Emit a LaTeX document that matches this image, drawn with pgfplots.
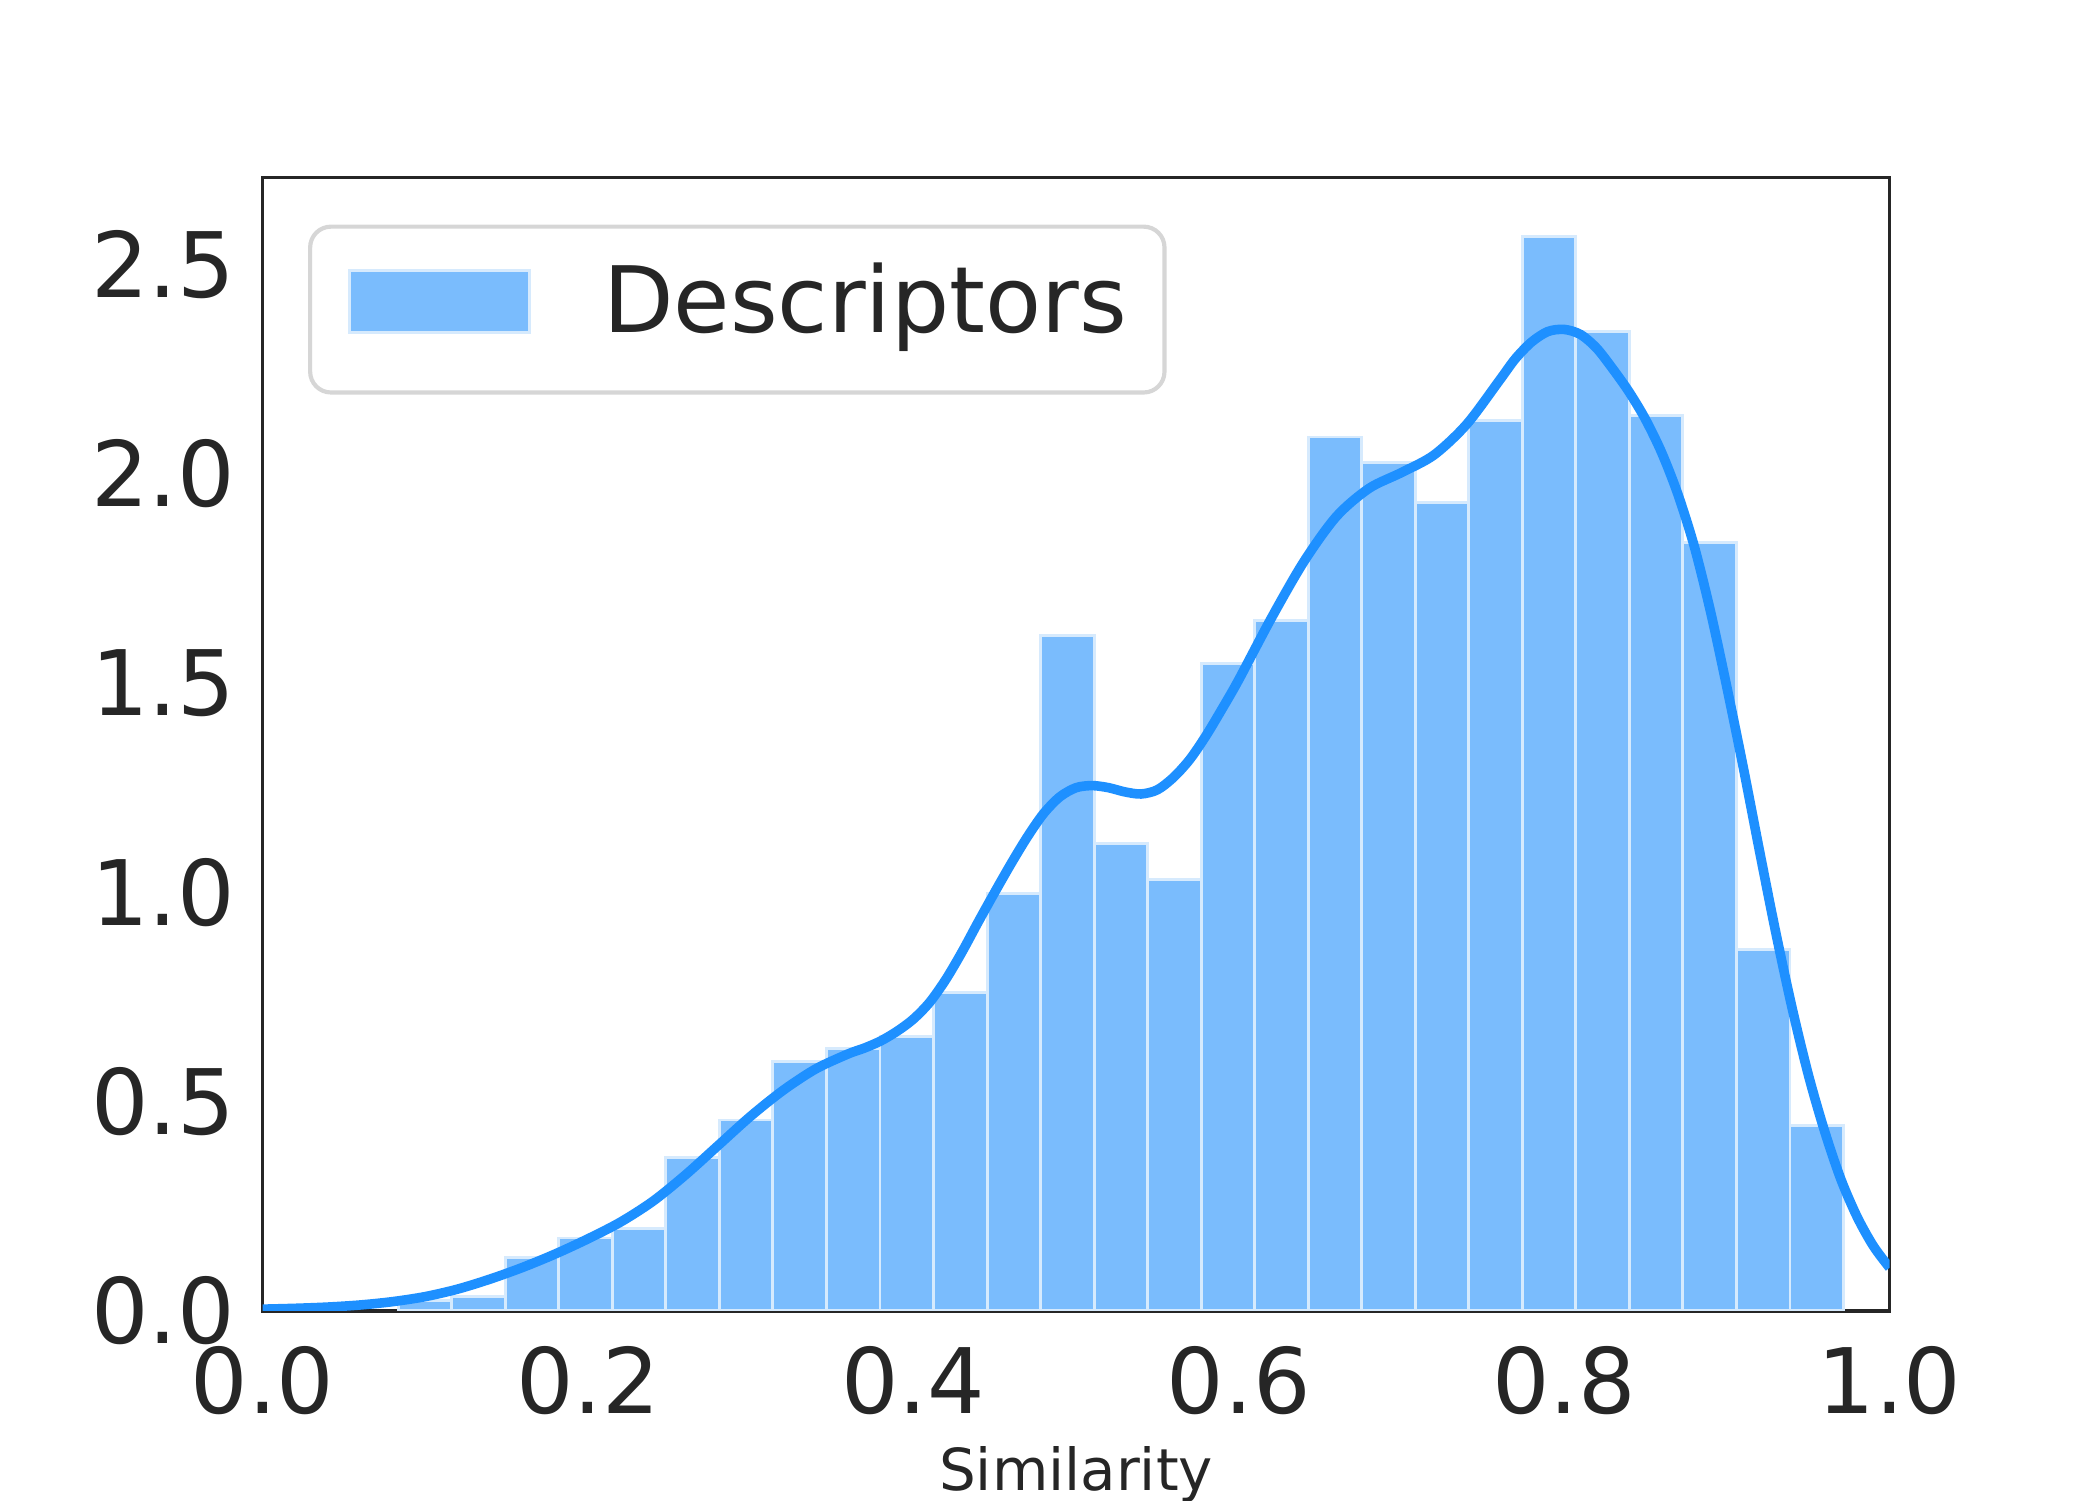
\documentclass[border=0pt]{standalone}
\usepackage{pgfplots}
\pgfplotsset{compat=1.18}
\usepackage{fontspec}
\setmainfont{DejaVu Sans}
\definecolor{txt}{RGB}{38,38,38}
\definecolor{kde}{RGB}{30,144,255}
\definecolor{barfill}{RGB}{122,188,253}
\definecolor{baredge}{RGB}{214,234,253}
\definecolor{legedge}{RGB}{214,214,214}

\begin{document}
\begin{tikzpicture}
\useasboundingbox (0,0) rectangle (504pt,360pt);
\begin{axis}[
    at={(63pt,45.4pt)}, anchor=south west,
    scale only axis,
    width=390.5pt, height=272pt,
    xmin=0, xmax=1,
    ymin=0, ymax=2.708,
    xtick={0,0.2,0.4,0.6,0.8,1.0},
    ytick={0,0.5,1.0,1.5,2.0,2.5},
    major tick length=0pt,
    /pgf/number format/.cd, fixed, fixed zerofill, precision=1, assume math mode=true,
    /pgfplots/.cd,
    tick label style={font=\fontsize{21.7}{25}\selectfont, text=txt, inner sep=0pt},
    xticklabel style={yshift=-8.4pt},
    yticklabel style={xshift=-6.4pt},
    axis line style={draw=txt, line width=0.8pt},
    xlabel={Similarity},
    xlabel style={font=\fontsize{13.9}{16}\selectfont, text=txt,
                  at={(axis description cs:0.5,0)}, anchor=base, yshift=-43.2pt},
    legend style={at={(axis description cs:0.028,0.9585)}, anchor=north west,
                  draw=legedge, line width=1pt, rounded corners=5pt, fill=white,
                  inner xsep=9pt, inner ysep=8.8pt,
                  font=\fontsize{22}{26}\selectfont, text=txt,
                  nodes={inner sep=0pt}},
    legend cell align=left,
]

%% histogram (density), 27 bins, left edges
\addplot[ybar interval, fill=barfill, draw=baredge, line width=0.7pt,
    legend image code/.code={
        \draw[sharp corners, fill=barfill, draw=baredge, line width=0.7pt] (0pt,-7.45pt) rectangle (43.3pt,7.45pt);
        \path (60.6pt,-12.75pt);
    }] coordinates {
  (0.0834,0.025)
  (0.1163,0.034)
  (0.1492,0.128)
  (0.1821,0.174)
  (0.2150,0.196)
  (0.2479,0.367)
  (0.2808,0.456)
  (0.3137,0.595)
  (0.3466,0.627)
  (0.3795,0.656)
  (0.4124,0.761)
  (0.4453,0.998)
  (0.4782,1.614)
  (0.5111,1.116)
  (0.5440,1.030)
  (0.5769,1.547)
  (0.6098,1.650)
  (0.6427,2.088)
  (0.6756,2.027)
  (0.7085,1.932)
  (0.7414,2.127)
  (0.7743,2.567)
  (0.8072,2.341)
  (0.8401,2.140)
  (0.8730,1.835)
  (0.9059,0.864)
  (0.9388,0.442)
  (0.9717,0.442)
};
\addlegendentry{Descriptors}

%% kde curve
\addplot[forget plot, smooth, color=kde, line width=2.3pt] coordinates {
  (0.00,0.004) (0.02,0.006) (0.04,0.009) (0.06,0.014) (0.08,0.022)
  (0.10,0.034) (0.12,0.052) (0.14,0.076) (0.16,0.104) (0.18,0.136)
  (0.20,0.172) (0.22,0.212) (0.24,0.262) (0.26,0.325) (0.28,0.395)
  (0.30,0.465) (0.32,0.527) (0.34,0.578) (0.36,0.614) (0.37,0.628)
  (0.38,0.645) (0.39,0.668) (0.40,0.697) (0.41,0.737) (0.42,0.792)
  (0.43,0.858) (0.44,0.930) (0.45,1.000) (0.46,1.068) (0.47,1.132)
  (0.48,1.188) (0.49,1.228) (0.50,1.250) (0.51,1.255) (0.52,1.250)
  (0.53,1.240) (0.54,1.235) (0.55,1.245) (0.56,1.275) (0.57,1.318)
  (0.58,1.375) (0.59,1.440) (0.60,1.508) (0.62,1.655) (0.64,1.790)
  (0.66,1.898) (0.68,1.965) (0.70,2.003) (0.72,2.045) (0.74,2.118)
  (0.76,2.222) (0.77,2.275) (0.78,2.315) (0.79,2.340) (0.80,2.345)
  (0.81,2.333) (0.82,2.300) (0.83,2.250) (0.84,2.195) (0.85,2.130)
  (0.86,2.050) (0.87,1.950) (0.88,1.826) (0.89,1.670) (0.90,1.490)
  (0.91,1.300) (0.92,1.100) (0.93,0.905) (0.94,0.725) (0.95,0.565)
  (0.96,0.430) (0.97,0.315) (0.98,0.225) (0.99,0.155) (1.00,0.103)
};

\end{axis}
\end{tikzpicture}
\end{document}
